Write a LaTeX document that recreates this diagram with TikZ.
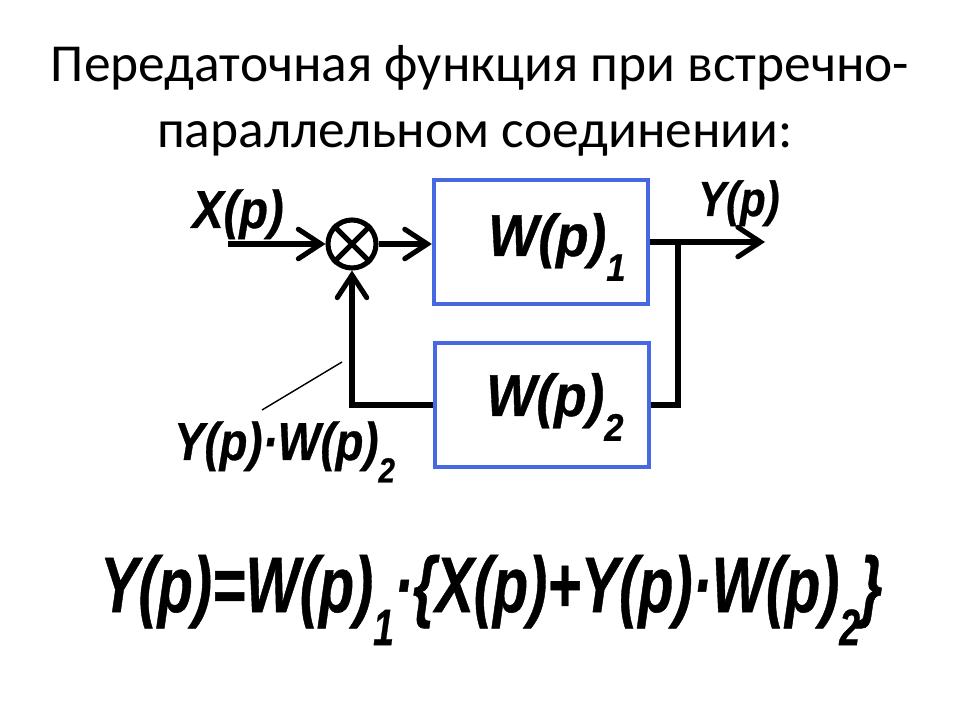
\documentclass[tikz,border=0pt]{standalone}
\usepackage{fontspec}
\usepackage{graphicx}
\setmainfont{Carlito}
\newfontfamily\diafont{Liberation Sans}[BoldItalicFeatures={FakeBold=0.7}]
\usetikzlibrary{arrows.meta}
\definecolor{boxblue}{RGB}{70,105,225}
\newcommand\lowidx[1]{\raisebox{-0.42em}{\scalebox{0.65}{#1}}}

\begin{document}
\begin{tikzpicture}[x=0.025cm,y=-0.025cm,
        blk/.style={draw=boxblue,line width=3pt,minimum width=5.35cm,minimum height=3.1cm,inner sep=0pt},
        wire/.style={line width=3.6pt},
        arr/.style={wire,-{Straight Barb[length=16pt,width=21pt,line cap=round]}},
        lbl/.style={inner sep=0pt,font=\diafont\bfseries\itshape\fontsize{#1}{#1}\selectfont}]
    \useasboundingbox (0,0) rectangle (960,720);
    \node[font=\fontsize{38}{40}\selectfont,anchor=base] (title1) at (480,82) {Передаточная функция при встречно-};
    \node[font=\fontsize{38}{40}\selectfont,anchor=base] (title2) at (475,148) {параллельном соединении:};

    \node[blk] (w1) at (541,242) {};
    \node[blk] (w2) at (542,405) {};
    \node[lbl=42,anchor=base west,xscale=0.9] (w1txt) at (488,256) {W(p)\lowidx{1}};
    \node[lbl=42,anchor=base west,xscale=0.9] (w2txt) at (486,416) {W(p)\lowidx{2}};

    \node[draw,circle,wire,minimum size=1.2cm,inner sep=0pt] (sum) at (352,244) {};
    \draw[wire] (sum.45) -- (sum.225) (sum.135) -- (sum.315);

    \coordinate (xin) at (228,244);
    \coordinate (branch) at (678,242);
    \coordinate (yout) at (765,242);
    \draw[arr] (xin) -- (sum.west);
    \draw[arr] (sum.east) -- (sum.east -| w1.west);
    \draw[arr] (w1.east) -- (yout);
    \draw[wire] (branch) |- (w2.east);
    \draw[arr] (w2.west) -| (sum.south);

    \node[lbl=38,anchor=base west,xscale=0.88] (xlbl) at (192,228) {X(p)};
    \node[lbl=35,anchor=base west,xscale=0.85] (ylbl) at (698,216) {Y(p)};
    \node[lbl=38,anchor=base west,xscale=0.85] (fblbl) at (174,460) {Y(p)·W(p)\lowidx{2}};
    \coordinate (ptA) at (262,410);
    \coordinate (ptB) at (342,362);
    \draw[line width=1pt] (ptA) -- (ptB);

    \node[lbl=56,anchor=base west,xscale=0.73] (eq) at (100,612) {Y(p)=W(p)\lowidx{1}·\{X(p)+Y(p)·W(p)\lowidx{2}\}};
\end{tikzpicture}
\end{document}
